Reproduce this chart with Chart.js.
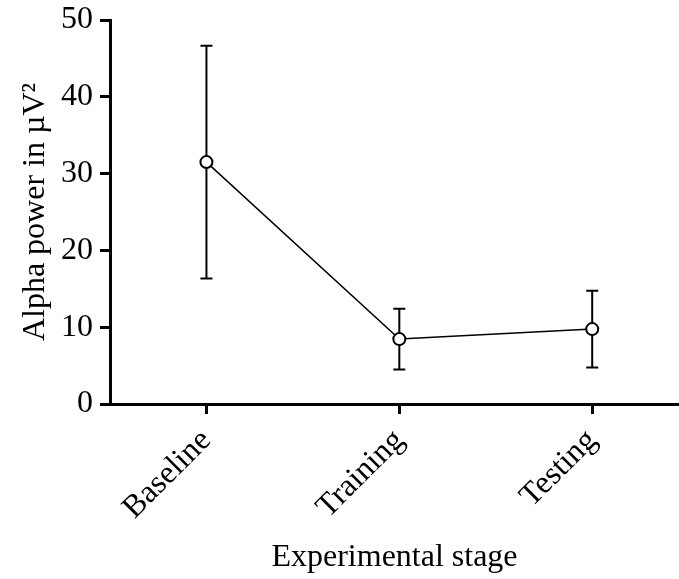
<!DOCTYPE html>
<html>
<head>
<meta charset="utf-8">
<script src="https://cdn.jsdelivr.net/npm/chart.js@4.4.1/dist/chart.umd.min.js"></script>
<style>
  html, body { margin: 0; padding: 0; background: #fff; }
  #wrap { width: 679px; height: 579px; }
</style>
</head>
<body>
<div id="wrap"><canvas id="c" width="679" height="579"></canvas></div>
<script>
const stages = ['Baseline', 'Training', 'Testing'];
const alphaMean = [31.5, 8.45, 9.75];
const alphaErr = [15.15, 3.95, 5.0];
const yTicks = [0, 10, 20, 30, 40, 50];

const FONT = "'Liberation Serif', 'Times New Roman', serif";

// draws the vertical error bars with caps behind the markers
const errorBars = {
  id: 'errorBars',
  beforeDatasetsDraw(chart) {
    const ctx = chart.ctx;
    const xs = chart.scales.x, ys = chart.scales.y;
    ctx.save();
    ctx.strokeStyle = '#000';
    ctx.lineWidth = 2;
    alphaMean.forEach((m, i) => {
      const px = xs.getPixelForValue(i);
      const top = ys.getPixelForValue(m + alphaErr[i]);
      const bot = ys.getPixelForValue(m - alphaErr[i]);
      ctx.beginPath();
      ctx.moveTo(px, top); ctx.lineTo(px, bot);
      ctx.moveTo(px - 6, top); ctx.lineTo(px + 6, top);
      ctx.moveTo(px - 6, bot); ctx.lineTo(px + 6, bot);
      ctx.stroke();
    });
    ctx.restore();
  }
};

new Chart(document.getElementById('c'), {
  type: 'line',
  plugins: [errorBars],
  data: {
    datasets: [{
      data: alphaMean.map((v, i) => ({ x: i, y: v })),
      borderColor: '#000',
      borderWidth: 1.5,
      pointRadius: 6,
      pointBorderWidth: 2,
      pointBackgroundColor: '#fff',
      pointBorderColor: '#000',
      tension: 0
    }]
  },
  options: {
    responsive: false,
    animation: false,
    events: [],
    layout: { autoPadding: false, padding: { top: 20, right: 0, left: 0, bottom: 0 } },
    plugins: { legend: { display: false }, tooltip: { enabled: false } },
    scales: {
      x: {
        type: 'linear',
        min: -0.5,
        max: 2.45,
        afterBuildTicks(scale) { scale.ticks = stages.map((s, i) => ({ value: i })); },
        afterFit(scale) { scale.height = 175; scale.paddingRight = 0; },
        border: { display: true, color: '#000', width: 3 },
        grid: { display: true, drawOnChartArea: false, color: '#000', lineWidth: 3, tickLength: 10 },
        ticks: {
          color: '#000',
          font: { family: FONT, size: 32 },
          minRotation: 45,
          maxRotation: 45,
          padding: 8,
          callback: (v) => stages[v]
        },
        title: {
          display: true,
          text: 'Experimental stage',
          color: '#000',
          font: { family: FONT, size: 32 },
          padding: { top: 0, bottom: 2 }
        }
      },
      y: {
        min: 0,
        max: 50,
        afterBuildTicks(scale) { scale.ticks = yTicks.map(v => ({ value: v })); },
        afterFit(scale) { scale.width = 110; scale.paddingTop = 0; scale.paddingBottom = 0; },
        border: { display: true, color: '#000', width: 3 },
        grid: { display: true, drawOnChartArea: false, color: '#000', lineWidth: 3, tickLength: 10 },
        ticks: {
          color: '#000',
          font: { family: FONT, size: 32 },
          padding: 7
        },
        title: {
          display: true,
          text: 'Alpha power in \u00b5V\u00b2',
          color: '#000',
          font: { family: FONT, size: 32 },
          padding: { top: 16, bottom: 0 }
        }
      }
    }
  }
});
</script>
</body>
</html>
